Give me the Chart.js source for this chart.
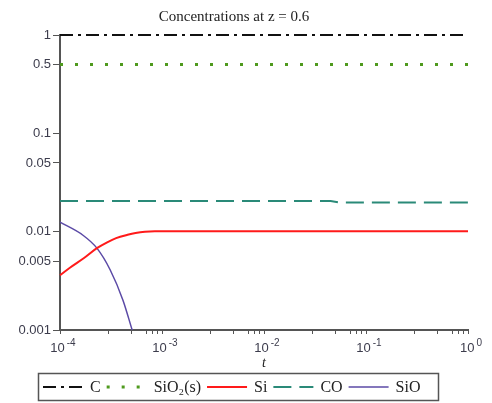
<!DOCTYPE html>
<html>
<head>
<meta charset="utf-8">
<script src="https://cdn.jsdelivr.net/npm/chart.js@4.4.1/dist/chart.umd.min.js"></script>
<style>
  html, body { margin: 0; padding: 0; background: #fff; }
  #wrap { width: 492px; height: 403px; }
</style>
</head>
<body>
<div id="wrap"><canvas id="chart"></canvas></div>
<script>
// series (t, concentration)
var tC = [1e-4, 1];
var valC = [1, 1];

var tSiO2 = [1e-4, 1];
var valSiO2 = [0.5, 0.5];

var tSi = [1e-4, 1.25e-4, 1.72e-4, 2.3e-4, 2.9e-4, 3.55e-4, 4.6e-4, 5.5e-4, 6.8e-4, 8.5e-4, 1];
var valSi = [0.0036, 0.0043, 0.0054, 0.0068, 0.0078, 0.0086, 0.0093, 0.0097, 0.0100, 0.0101, 0.0101];

var tCO = [1e-4, 0.045, 0.055, 1];
var valCO = [0.0205, 0.0205, 0.0198, 0.0198];

var tSiO = [1e-4, 1.68e-4, 2.3e-4, 3.1e-4, 4.15e-4, 5.1e-4];
var valSiO = [0.0125, 0.0092, 0.0068, 0.0041, 0.0020, 0.001];

// axis ticks
var yTicks = [0.001, 0.005, 0.01, 0.05, 0.1, 0.5, 1];
var yLabels = ["0.001", "0.005", "0.01", "0.05", "0.1", "0.5", "1"];
var xMajor = [1e-4, 1e-3, 1e-2, 1e-1, 1];
var xExps = ["-4", "-3", "-2", "-1", "0"];
var xMinorMult = [3, 5, 7, 8, 9];

function pts(xs, ys) {
  return xs.map(function (x, i) { return { x: x, y: ys[i] }; });
}

var tickColor = "#3c3c4c";

// x labels as 10 with a raised exponent
var powerLabels = {
  id: "powerLabels",
  afterDraw: function (chart) {
    var ctx = chart.ctx, sc = chart.scales.x;
    ctx.save();
    ctx.fillStyle = tickColor;
    ctx.textBaseline = "alphabetic";
    ctx.textAlign = "left";
    xMajor.forEach(function (v, i) {
      var px = sc.getPixelForValue(v);
      ctx.font = "13px 'Liberation Sans'";
      var w1 = ctx.measureText("10").width;
      ctx.font = "10px 'Liberation Sans'";
      var w2 = ctx.measureText(xExps[i]).width;
      var x0 = px + 3 - (w1 + 2 + w2) / 2;
      ctx.font = "13px 'Liberation Sans'";
      ctx.fillText("10", x0, 352);
      ctx.font = "10px 'Liberation Sans'";
      ctx.fillText(xExps[i], x0 + w1 + 2, 346);
    });
    ctx.restore();
  }
};

var boxLegend = {
  id: "boxLegend",
  afterDraw: function (chart) {
    var ctx = chart.ctx;
    ctx.save();
    ctx.strokeStyle = "#555";
    ctx.lineWidth = 1.5;
    ctx.setLineDash([]);
    ctx.strokeRect(38.5, 373.5, 400, 27);
    ctx.font = "16px 'Liberation Serif'";
    ctx.fillStyle = "#222";
    ctx.textBaseline = "middle";
    var x = 43, y = 387;
    chart.data.datasets.forEach(function (ds) {
      ctx.strokeStyle = ds.borderColor;
      ctx.lineWidth = ds.borderWidth;
      ctx.setLineDash(ds.borderDash || []);
      ctx.beginPath();
      ctx.moveTo(x, y);
      ctx.lineTo(x + 40, y);
      ctx.stroke();
      ctx.setLineDash([]);
      x += 47;
      ctx.fillText(ds.label, x, y + 1);
      x += ctx.measureText(ds.label).width + 6;
    });
    ctx.restore();
  }
};

var ctx = document.getElementById("chart");
new Chart(ctx, {
  type: "line",
  data: {
    datasets: [
      { label: "C", data: pts(tC, valC), borderColor: "#111", borderWidth: 2,
        borderDash: [13, 5, 3, 5] },
      { label: "SiO\u2082(s)", data: pts(tSiO2, valSiO2), borderColor: "#4f9a1e", borderWidth: 3,
        borderDash: [3, 12] },
      { label: "Si", data: pts(tSi, valSi), borderColor: "#ff1a1a", borderWidth: 2,
        cubicInterpolationMode: "monotone" },
      { label: "CO", data: pts(tCO, valCO), borderColor: "#2a8a78", borderWidth: 2,
        borderDash: [18, 8] },
      { label: "SiO", data: pts(tSiO, valSiO), borderColor: "#5b4aa6", borderWidth: 1.5,
        cubicInterpolationMode: "monotone" }
    ]
  },
  options: {
    responsive: true,
    maintainAspectRatio: false,
    animation: false,
    layout: { padding: { left: 0, right: 24, top: 0, bottom: 29 } },
    elements: { point: { radius: 0 }, line: { borderCapStyle: "butt", fill: false } },
    datasets: { line: { clip: 6 } },
    plugins: {
      legend: { display: false },
      tooltip: { enabled: false },
      title: {
        display: true,
        text: "Concentrations at z = 0.6",
        color: "#222",
        font: { family: "Liberation Serif", size: 15, weight: "normal" },
        padding: { top: 8, bottom: 9 }
      }
    },
    scales: {
      x: {
        type: "logarithmic",
        min: 1e-4,
        max: 1,
        afterBuildTicks: function (scale) {
          var list = [];
          xMajor.forEach(function (m, i) {
            list.push({ value: m });
            if (i < xMajor.length - 1) {
              xMinorMult.forEach(function (k) { list.push({ value: m * k }); });
            }
          });
          scale.ticks = list;
        },
        afterFit: function (scale) { scale.height = 44; },
        border: { display: true, color: "#555", width: 2 },
        grid: { display: true, drawOnChartArea: false, tickLength: 4, tickColor: "#555", tickWidth: 1 },
        ticks: {
          autoSkip: false,
          maxRotation: 0,
          callback: function () { return ""; }
        },
        title: {
          display: true,
          text: "t",
          color: "#222",
          font: { family: "Liberation Serif", size: 14, style: "italic" },
          padding: { top: 0, bottom: 2 }
        }
      },
      y: {
        type: "logarithmic",
        min: 0.001,
        max: 1,
        afterBuildTicks: function (scale) {
          scale.ticks = yTicks.map(function (v) { return { value: v }; });
        },
        afterFit: function (scale) { scale.width = 60; },
        border: { display: true, color: "#555", width: 2 },
        grid: { display: true, drawOnChartArea: false, tickLength: 7, tickColor: "#555", tickWidth: 1 },
        ticks: {
          autoSkip: false,
          color: tickColor,
          font: { family: "Liberation Sans", size: 13 },
          padding: 2,
          callback: function (v) {
            for (var i = 0; i < yTicks.length; i++) {
              if (Math.abs(Math.log10(v) - Math.log10(yTicks[i])) < 1e-6) return yLabels[i];
            }
            return "";
          }
        }
      }
    }
  },
  plugins: [powerLabels, boxLegend]
});
</script>
</body>
</html>
